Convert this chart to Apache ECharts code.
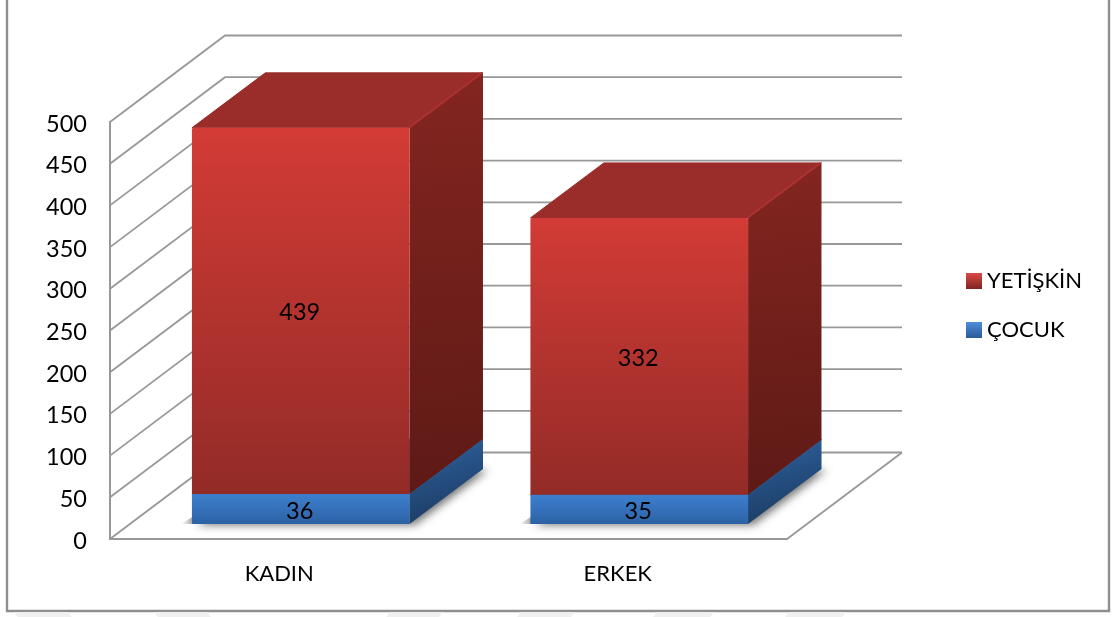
<!DOCTYPE html>
<html><head><meta charset="utf-8">
<style>html,body{margin:0;padding:0;background:#fff}#c{width:1116px;height:617px}</style>
<script src="https://cdn.jsdelivr.net/npm/echarts@6/dist/echarts.min.js"></script>
</head><body><div id="c"></div>
<script>
const categories = ['KADIN', 'ERKEK'];
const cocuk = [36, 35];
const yetiskin = [439, 332];
const cocukLabels = ['36', '35'];
const yetiskinLabels = ['439', '332'];
const yTicks = [0, 50, 100, 150, 200, 250, 300, 350, 400, 450, 500];

const DX = 115, DY = -86.5;
const BAR_DX = 73.4, BAR_DY = -55;
const BASE_DX = 21.5, BASE_DY = -15;
const BAR_RATIO = 0.643;
const FONT = 'Lato, "Open Sans", sans-serif';

const lin = (x, y, x2, y2, a, b) => ({type:'linear',x,y,x2,y2,colorStops:[{offset:0,color:a},{offset:1,color:b}]});
const poly = (points, fill, z2, extra) => Object.assign({type:'polygon',shape:{points},style:Object.assign({fill},extra||{}),z2:z2||0});
const GRID = '#989898';

function gridItem(params, api) {
  const v = api.value(0), y = api.coord([0, v])[1];
  const cs = params.coordSys, x0 = cs.x, x1 = cs.x + cs.width;
  const pts = [[x0, y], [x0 + DX, y + DY], [x1 + DX, y + DY]];
  const children = [{type:'polyline',shape:{points:pts},style:{stroke:GRID,lineWidth:1.8,fill:null}}];
  if (v === 0) children.push({type:'line',shape:{x1:x1,y1:y,x2:x1+DX,y2:y+DY},style:{stroke:GRID,lineWidth:1.8}});
  return {type:'group',children};
}

function boxItem(colors, labels, isBottom) {
  return function (params, api) {
    const i = api.value(0), base = api.value(1), val = api.value(2);
    const c = api.coord([i, 0]);
    const w = api.size([1, 0])[0] * BAR_RATIO;
    const x0 = c[0] + BASE_DX - w / 2, x1 = x0 + w;
    const yb = api.coord([i, base])[1] + BASE_DY;
    const yt = api.coord([i, base + val])[1] + BASE_DY;
    const ch = [];
    if (isBottom) {
      ch.push(poly([[x0, yb],[x1, yb],[x1+BAR_DX, yb+BAR_DY],[x0+BAR_DX, yb+BAR_DY]], '#9a9a9a', 0,
        {shadowBlur:9, shadowColor:'rgba(0,0,0,0.55)', shadowOffsetX:5, shadowOffsetY:1}));
      ch.push(poly([[x0-11, yb],[x0+2, yb],[x0+2, yb-8]], lin(0,0,1,0,'rgba(150,150,150,0)','rgba(130,130,130,0.8)'), 0));
    }
    ch.push(poly([[x1, yb],[x1+BAR_DX, yb+BAR_DY],[x1+BAR_DX, yt+BAR_DY],[x1, yt]],
      lin(0,0,0.35,1,colors.sideTop,colors.sideBot), 1));
    ch.push(poly([[x0, yt],[x1, yt],[x1+BAR_DX, yt+BAR_DY],[x0+BAR_DX, yt+BAR_DY]], colors.top, 1,
      {stroke:colors.top, lineWidth:1, lineJoin:'round'}));
    ch.push({type:'line',shape:{x1:x1-1,y1:yt,x2:x1+BAR_DX-1,y2:yt+BAR_DY},style:{stroke:colors.edge,lineWidth:2},z2:2});
    ch.push({type:'rect',shape:{x:x0,y:yt,width:w,height:yb-yt,r:isBottom?[0,0,1,1]:[2,2,0,0]},
      style:{fill:lin(0,0,0,1,colors.frontTop,colors.frontBot)},z2:3});
    ch.push({type:'text',x:(x0+x1)/2-1,y:(yt+yb)/2+2,
      style:{text:labels[i],font:'23.5px '+FONT,fill:'#000',align:'center',verticalAlign:'middle'},z2:5});
    return {type:'group',children:ch};
  };
}

const red = {frontTop:'#d33b36',frontBot:'#932b27',top:'#9a2c29',edge:'#a93230',sideTop:'#842520',sideBot:'#5e1a16'};
const blue = {frontTop:'#3d7fce',frontBot:'#2c62a5',top:'#2b5e9c',edge:'#2b5e9c',sideTop:'#2e629f',sideBot:'#1c3c64'};

const stripes = [[14,68,1],[154,207,1],[390,443,-1],[521,575,-1],[657,714,-1],[789,846,-1]];

const chart = echarts.init(document.getElementById('c'), null, {renderer:'canvas'});
chart.setOption({
  animation:false,
  backgroundColor:'#fff',
  textStyle:{fontFamily:FONT},
  grid:{left:110,top:122,width:677,height:417},
  xAxis:{type:'category',data:categories,
    axisLine:{lineStyle:{color:GRID,width:2}},axisTick:{show:false},
    axisLabel:{color:'#000',fontSize:22,margin:24}},
  yAxis:{type:'value',min:0,max:500,interval:50,
    axisLine:{show:true,lineStyle:{color:GRID,width:2}},axisTick:{show:false},splitLine:{show:false},
    axisLabel:{color:'#000',fontSize:23.5,margin:23,verticalAlign:'top',lineHeight:24,padding:[-10,0,0,0],customValues:yTicks}},
  legend:{orient:'vertical',left:966,top:270,padding:0,itemWidth:16,itemHeight:16,itemGap:27,icon:'rect',
    data:['YETİŞKİN','ÇOCUK'],selectedMode:false,
    textStyle:{color:'#000',fontSize:22}},
  series:[
    {type:'custom',name:'grid',silent:true,clip:false,z:1,coordinateSystem:'cartesian2d',
     renderItem:gridItem,encode:{y:0},data:yTicks.map(v=>[v]),legendHoverLink:false},
    {type:'custom',name:'ÇOCUK',z:2,clip:false,
     itemStyle:{color:lin(0,0,0,1,'#4f8edb','#2a5a96')},
     renderItem:boxItem(blue,cocukLabels,true),encode:{x:0,y:2},
     data:cocuk.map((v,i)=>[i,0,v])},
    {type:'custom',name:'YETİŞKİN',z:3,clip:false,
     itemStyle:{color:lin(0,0,0,1,'#dc4a44','#7f2420')},
     renderItem:boxItem(red,yetiskinLabels,false),encode:{x:0,y:2},
     data:yetiskin.map((v,i)=>[i,cocuk[i],v])}
  ],
  graphic:[
    {type:'rect',shape:{x:7,y:-6,width:1102,height:617},style:{fill:null,stroke:'#8e8e8e',lineWidth:2.4},silent:true,z:0}
  ].concat(stripes.map(s=>({type:'polygon',silent:true,z:0,
    shape:{points:[[s[0],612],[s[1],612],[s[1]+s[2]*4,617],[s[0]+s[2]*4,617]]},style:{fill:'#f0f0f0'}})))
});
</script></body></html>
